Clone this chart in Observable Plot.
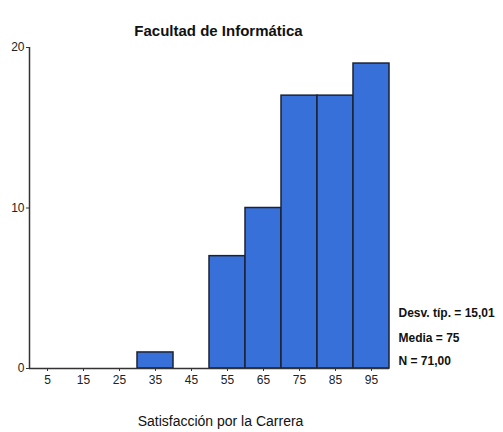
<!DOCTYPE html>
<html>
<head>
<meta charset="utf-8">
<script src="https://cdn.jsdelivr.net/npm/d3@7"></script>
<script src="https://cdn.jsdelivr.net/npm/@observablehq/plot@0.6"></script>
<style>
  html, body { margin: 0; padding: 0; background: #fff; }
  svg { display: block; }
</style>
</head>
<body>
<div id="chart"></div>
<script>
const binStarts = [0, 10, 20, 30, 40, 50, 60, 70, 80, 90];
const binWidth = 10;
const counts = [0, 0, 0, 1, 0, 7, 10, 17, 17, 19];
const xTicks = [5, 15, 25, 35, 45, 55, 65, 75, 85, 95];
const yTicks = [0, 10, 20];
const title = "Facultad de Informática";
const xLabel = "Satisfacción por la Carrera";
const stats = ["Desv. típ. = 15,01", "Media = 75", "N = 71,00"];

const bins = binStarts.map((s, i) => ({x1: s, x2: s + binWidth, count: counts[i]}))
  .filter(d => d.count > 0);

const font = "'Liberation Sans', Arial, sans-serif";
const statOffsets = [-52, -27, -4];

const chart = Plot.plot({
  width: 503,
  height: 432,
  marginLeft: 29,
  marginRight: 114,
  marginTop: 47,
  marginBottom: 64,
  style: {fontFamily: font, fontSize: "12px", color: "#222", background: "#fff"},
  x: {domain: [0, 100]},
  y: {domain: [0, 20]},
  marks: [
    Plot.rectY(bins, {x1: "x1", x2: "x2", y: "count", fill: "#3670d8", stroke: "#1c2233", strokeWidth: 1.5, inset: 0}),
    Plot.ruleX([0], {stroke: "#333", strokeWidth: 1.5}),
    Plot.ruleY([0], {stroke: "#333", strokeWidth: 1.5}),
    Plot.axisX({ticks: xTicks, tickSize: 3, tickPadding: 4, label: null, fontSize: 12, stroke: "#333"}),
    Plot.axisY({ticks: yTicks, tickSize: 3, tickPadding: 2, label: null, fontSize: 12, stroke: "#333"}),
    Plot.text([title], {x: null, y: null, text: d => d, frameAnchor: "top-left", textAnchor: "middle", dx: 189, dy: -22, fontSize: 15, fontWeight: "bold", fill: "#111"}),
    Plot.text([xLabel], {x: null, y: null, text: d => d, frameAnchor: "bottom-left", textAnchor: "middle", dx: 191, dy: 57, fontSize: 14, fill: "#111"}),
    ...stats.map((s, i) => Plot.text([s], {x: null, y: null, text: d => d, frameAnchor: "bottom-right", dx: 9, dy: statOffsets[i], textAnchor: "start", fill: "#111", fontSize: 12, fontWeight: "bold"}))
  ]
});
document.getElementById("chart").appendChild(chart);
</script>
</body>
</html>
